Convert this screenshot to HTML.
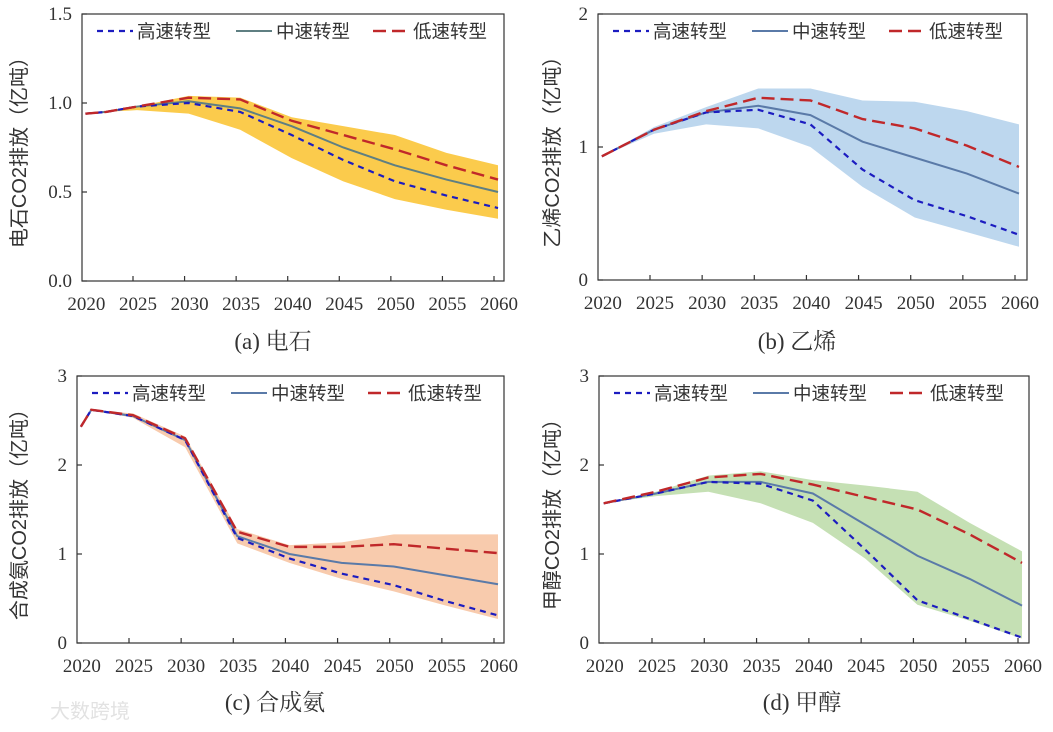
<!DOCTYPE html>
<html><head><meta charset="utf-8"><style>
body{margin:0;background:#fff;}
svg text{font-family:"Liberation Serif","Noto Serif CJK SC",serif;fill:#333;}
.cjk{font-family:"Liberation Sans","Noto Sans CJK SC",sans-serif !important;}
.wm{fill:#e2e2e2 !important;}
</style></head><body>
<svg id="chart" width="1053" height="727" viewBox="0 0 1053 727" xmlns="http://www.w3.org/2000/svg"></svg>
<script>
const yearsA=[2020,2022,2025,2030,2035,2040,2045,2050,2055,2060];
const highA=[.94,.95,.98,1.0,.95,.82,.68,.56,.48,.41];
const midA=[.94,.95,.98,1.01,.97,.87,.75,.65,.57,.50];
const lowA=[.94,.95,.98,1.03,1.02,.90,.82,.74,.65,.57];
const upA=[.94,.95,.98,1.04,1.03,.92,.87,.82,.72,.65];
const loA=[.94,.95,.96,.94,.85,.69,.56,.46,.40,.35];
const yticksA=["0.0","0.5","1.0","1.5"];

const yearsB=[2020,2025,2030,2035,2040,2045,2050,2055,2060];
const highB=[.93,1.13,1.26,1.28,1.17,.83,.60,.48,.34];
const midB=[.93,1.13,1.26,1.31,1.24,1.04,.92,.80,.65];
const lowB=[.93,1.13,1.27,1.37,1.35,1.21,1.14,1.01,.85];
const upB=[.93,1.15,1.30,1.44,1.44,1.35,1.34,1.27,1.17];
const loB=[.93,1.10,1.17,1.14,1.0,.70,.47,.36,.25];
const yticksB=["0","1","2"];

const yearsC=[2020,2021,2025,2030,2035,2040,2045,2050,2055,2060];
const highC=[2.43,2.62,2.55,2.28,1.18,.95,.78,.65,.47,.31];
const midC=[2.43,2.62,2.55,2.28,1.2,1.0,.9,.86,.76,.66];
const lowC=[2.43,2.62,2.56,2.30,1.25,1.08,1.08,1.11,1.06,1.01];
const upC=[2.43,2.62,2.58,2.32,1.28,1.1,1.13,1.22,1.22,1.22];
const loC=[2.43,2.62,2.53,2.2,1.12,.9,.72,.58,.42,.27];
const yticksC=["0","1","2","3"];

const yearsD=[2020,2025,2030,2035,2040,2045,2050,2055,2060];
const highD=[1.57,1.68,1.81,1.79,1.6,1.05,.48,.27,.06];
const midD=[1.57,1.68,1.81,1.81,1.68,1.33,.98,.72,.42];
const lowD=[1.57,1.70,1.86,1.90,1.78,1.64,1.50,1.22,.90];
const upD=[1.57,1.70,1.88,1.93,1.83,1.77,1.70,1.35,1.03];
const loD=[1.57,1.65,1.70,1.57,1.35,.95,.43,.25,.05];
const yticksD=["0","1","2","3"];

const xTickYears=[2020,2025,2030,2035,2040,2045,2050,2055,2060];
const seriesNames=["高速转型","中速转型","低速转型"];

const NS="http://www.w3.org/2000/svg";
const svg=document.getElementById('chart');
function el(tag,attrs,parent){const e=document.createElementNS(NS,tag);for(const k in attrs)e.setAttribute(k,attrs[k]);(parent||svg).appendChild(e);return e;}

function panel(id,g,years,high,mid,low,up,lo,yticks,ymax,bandColor,midColor,ylabel,title){
  const grp=el('g',{});
  
  
  const k=(g.t60-g.t25)/35;
  const tx=yr=>g.t25+(yr-2025)*k;
  const x=yr=>tx(yr)+4;
  const y=v=>g.bottom-(v/ymax)*(g.bottom-g.top);
  let d='M'+years.map((yr,i)=>x(yr)+','+y(up[i])).join('L');
  for(let i=years.length-1;i>=0;i--)d+='L'+x(years[i])+','+y(lo[i]);
  const band=el('path',{d:d+'Z',fill:bandColor,stroke:'none'},grp);
  
  
  const line=(vals,stroke,dash,w,name)=>{
    const p=el('polyline',{points:years.map((yr,i)=>x(yr)+','+y(vals[i])).join(' '),fill:'none',stroke:stroke,'stroke-width':w,'stroke-dasharray':dash},grp);
    
    
  };
  line(mid,midColor,'none',2,'mid-speed-line-'+id);
  line(high,'#1c1cc0','6 5',2.2,'high-speed-line-'+id);
  line(low,'#c0282a','13 6',2.4,'low-speed-line-'+id);
  const fr=el('rect',{x:g.left,y:g.top,width:g.right-g.left,height:g.bottom-g.top,fill:'none',stroke:'#333','stroke-width':1.2},grp);
  
  
  xTickYears.forEach(yr=>{
    if(yr>2020)el('line',{x1:tx(yr),x2:tx(yr),y1:g.bottom,y2:g.bottom-5,stroke:'#333','stroke-width':1.2},grp);
    const t=el('text',{x:tx(yr)+5,y:g.bottom+29,'text-anchor':'middle','font-size':19},grp);
    t.textContent=yr;
    
    
  });
  yticks.forEach(lbl=>{
    const v=parseFloat(lbl);
    el('line',{x1:g.left,x2:g.left+5,y1:y(v),y2:y(v),stroke:'#333','stroke-width':1.2},grp);
    const t=el('text',{x:g.left-10,y:y(v)+6,'text-anchor':'end','font-size':19,fill:'#444'},grp);
    t.textContent=lbl;
    
    
  });
  const cy=(g.top+g.bottom)/2;
  const yl=el('text',{x:g.ylx,y:cy,'text-anchor':'middle','font-size':20,transform:'rotate(-90 '+g.ylx+' '+cy+')',class:'cjk'},grp);
  yl.textContent=ylabel;
  
  
  const tt=el('text',{x:g.tcx,y:g.tcy,'text-anchor':'middle','font-size':23},grp);
  tt.textContent=title;
  
  
  const ly=g.top+17;
  const specs=[['#1c1cc0','6 5',2.2],[midColor,'none',2],['#c0282a','13 6',2.4]];
  const offs=[15,154,291];
  specs.forEach((s,i)=>{
    const lx=g.left+offs[i];
    const lg=el('g',{},grp);
    
    
    el('line',{x1:lx,x2:lx+36,y1:ly,y2:ly,stroke:s[0],'stroke-width':s[2],'stroke-dasharray':s[1]},lg);
    const t=el('text',{x:lx+40,y:ly+7,'font-size':18.5,class:'cjk'},lg);
    t.textContent=seriesNames[i];
  });
}
panel('a',{left:82,right:504,top:14,bottom:281,t25:133,t60:494,ylx:26,tcx:273,tcy:349},yearsA,highA,midA,lowA,upA,loA,yticksA,1.5,'#fbcb4c','#5f7f82','电石CO2排放（亿吨）','(a) 电石');
panel('b',{left:598,right:1027,top:14,bottom:280,t25:650,t60:1015,ylx:559,tcx:797,tcy:349},yearsB,highB,midB,lowB,upB,loB,yticksB,2,'#bdd7ee','#5a7aa8','乙烯CO2排放（亿吨）','(b) 乙烯');
panel('c',{left:77,right:504,top:376,bottom:643,t25:129,t60:494,ylx:26,tcx:275,tcy:710},yearsC,highC,midC,lowC,upC,loC,yticksC,3,'#f8cbad','#5a7aa8','合成氨CO2排放（亿吨）','(c) 合成氨');
panel('d',{left:599,right:1029,top:376,bottom:643,t25:652,t60:1018,ylx:559,tcx:802,tcy:710},yearsD,highD,midD,lowD,upD,loD,yticksD,3,'#c5e0b4','#5a7aa8','甲醇CO2排放（亿吨）','(d) 甲醇');
const wm=el('text',{x:50,y:718,'font-size':20,class:'cjk wm'});
wm.textContent='大数跨境';


</script>
</body></html>
